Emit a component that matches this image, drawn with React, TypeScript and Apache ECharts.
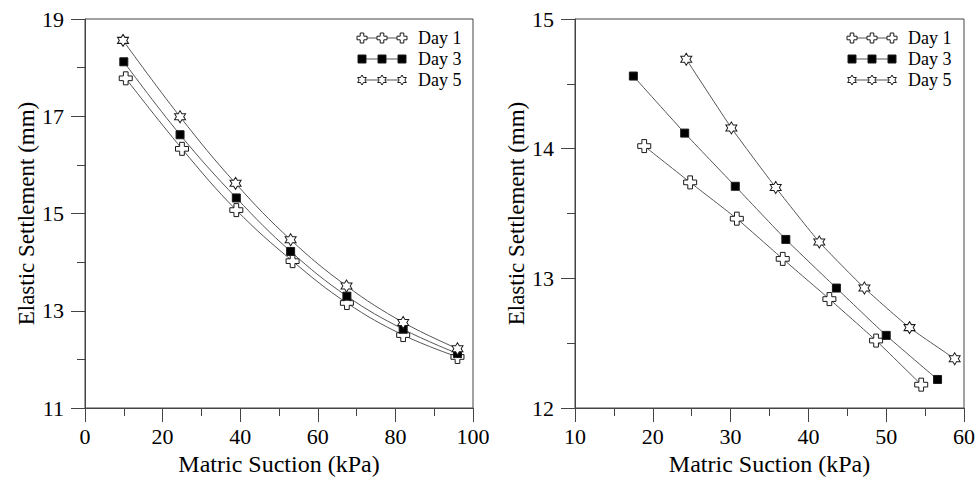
import React, { useEffect, useRef } from "react";
import * as echarts from "echarts";

// Left panel: matric suction (kPa) and elastic settlement (mm)
const leftSuctionDay1 = [10.5, 25, 39, 53.5, 67.5, 82, 96];
const leftSettleDay1 = [17.78, 16.33, 15.07, 14.02, 13.16, 12.5, 12.05];
const leftSuctionDay3 = [10, 24.5, 39, 53, 67.5, 82, 96];
const leftSettleDay3 = [18.12, 16.62, 15.32, 14.22, 13.3, 12.62, 12.12];
const leftSuctionDay5 = [9.8, 24.5, 38.8, 53, 67.4, 82, 96];
const leftSettleDay5 = [18.56, 16.99, 15.62, 14.46, 13.51, 12.76, 12.22];

// Right panel
const rightSuctionDay1 = [18.9, 24.8, 30.8, 36.7, 42.7, 48.7, 54.5];
const rightSettleDay1 = [14.02, 13.74, 13.46, 13.15, 12.84, 12.52, 12.18];
const rightSuctionDay3 = [17.5, 24.1, 30.6, 37.1, 43.6, 50.0, 56.6];
const rightSettleDay3 = [14.56, 14.12, 13.71, 13.3, 12.925, 12.56, 12.22];
const rightSuctionDay5 = [24.3, 30.1, 35.8, 41.4, 47.2, 53.0, 58.8];
const rightSettleDay5 = [14.69, 14.16, 13.7, 13.28, 12.925, 12.62, 12.38];

const seriesNames = ["Day 1", "Day 3", "Day 5"];

const FONT = "Liberation Serif";
const LINE = "#555";
const EDGE = "#1a1a1a";

const CROSS_D =
  "M3.2,0 L6.8,0 L6.8,3.2 L10,3.2 L10,6.8 L6.8,6.8 L6.8,10 L3.2,10 L3.2,6.8 L0,6.8 L0,3.2 L3.2,3.2 Z";
const STAR_D =
  "M5,0 L6.44,2.5 L9.33,2.5 L7.89,5 L9.33,7.5 L6.44,7.5 L5,10 L3.56,7.5 L0.67,7.5 L2.11,5 L0.67,2.5 L3.56,2.5 Z";

function pairs(xs: number[], ys: number[]) {
  return xs.map((x, i) => [x, ys[i]]);
}

const markerStyles = [
  { symbol: "path://" + CROSS_D, symbolSize: [13, 13], fill: "#fff" },
  { symbol: "rect", symbolSize: [8, 8], fill: "#000" },
  { symbol: "path://" + STAR_D, symbolSize: [11, 12], fill: "#fff" },
];

function makeSeries(
  name: string,
  idx: number,
  data: number[][],
  axisIndex: number,
  smooth: number | boolean
) {
  const m = markerStyles[idx];
  return {
    name,
    type: "line",
    xAxisIndex: axisIndex,
    yAxisIndex: axisIndex,
    data,
    smooth,
    symbol: m.symbol,
    symbolSize: m.symbolSize,
    showAllSymbol: true,
    lineStyle: { color: LINE, width: 1 },
    itemStyle: { color: m.fill, borderColor: EDGE, borderWidth: 1, opacity: 1 },
    emphasis: { disabled: true },
    z: 3 + idx,
  };
}

function xAxisCfg(gridIndex: number, min: number, max: number, interval: number) {
  return {
    type: "value",
    gridIndex,
    min,
    max,
    interval,
    name: "Matric Suction (kPa)",
    nameLocation: "middle",
    nameGap: 28,
    nameTextStyle: { fontFamily: FONT, fontSize: 24, color: "#000" },
    axisLine: { show: true, onZero: false, lineStyle: { color: "#444", width: 1 } },
    axisTick: { show: true, inside: false, length: 14, lineStyle: { color: "#444" } },
    minorTick: { show: true, splitNumber: 2, length: 8, lineStyle: { color: "#444" } },
    splitLine: { show: false },
    axisLabel: { fontFamily: FONT, fontSize: 22, color: "#000", margin: 17 },
  };
}

function yAxisCfg(gridIndex: number, min: number, max: number, interval: number) {
  return {
    type: "value",
    gridIndex,
    min,
    max,
    interval,
    name: "Elastic Settlement (mm)",
    nameLocation: "middle",
    nameGap: 47,
    nameTextStyle: { fontFamily: FONT, fontSize: 23, color: "#000" },
    axisLine: { show: true, onZero: false, lineStyle: { color: "#444", width: 1 } },
    axisTick: { show: true, inside: false, length: 14, lineStyle: { color: "#444" } },
    minorTick: { show: true, splitNumber: 2, length: 8, lineStyle: { color: "#444" } },
    splitLine: { show: false },
    axisLabel: { fontFamily: FONT, fontSize: 22, color: "#000", margin: 21 },
  };
}

// Legend block: a short line with three markers, then the label
function legendBlock(x0: number, y0: number) {
  const children: any[] = [];
  const rowGap = 21;
  const step = 20;
  seriesNames.forEach((label, i) => {
    const cy = y0 + i * rowGap;
    children.push({
      type: "line",
      shape: { x1: x0, y1: cy, x2: x0 + 2 * step, y2: cy },
      style: { stroke: LINE, lineWidth: 1 },
      silent: true,
    });
    for (let k = 0; k < 3; k++) {
      const cx = x0 + k * step;
      if (i === 1) {
        children.push({
          type: "rect",
          shape: { x: cx - 4, y: cy - 4, width: 8, height: 8 },
          style: { fill: "#000", stroke: EDGE, lineWidth: 1 },
          silent: true,
        });
      } else {
        children.push({
          type: i === 0 ? "plusMark" : "starMark",
          x: cx - 5,
          y: cy - 5,
          style: { fill: "#fff", stroke: EDGE, lineWidth: 1 },
          silent: true,
        });
      }
    }
    children.push({
      type: "text",
      x: x0 + 2 * step + 16,
      y: cy,
      style: {
        text: label,
        fontFamily: FONT,
        fontSize: 18,
        fill: "#000",
        verticalAlign: "middle",
        align: "left",
      },
      silent: true,
    });
  });
  return { type: "group", children };
}

let registered = false;
function ensureShapes() {
  if (registered) return;
  echarts.graphic.registerShape("plusMark", echarts.graphic.extendPath(CROSS_D, {}));
  echarts.graphic.registerShape("starMark", echarts.graphic.extendPath(STAR_D, {}));
  registered = true;
}

export default function App() {
  const ref = useRef<HTMLDivElement>(null);

  useEffect(() => {
    if (!ref.current) return;
    ensureShapes();
    const chart = echarts.init(ref.current, undefined, { renderer: "svg" });

    const leftData = [
      pairs(leftSuctionDay1, leftSettleDay1),
      pairs(leftSuctionDay3, leftSettleDay3),
      pairs(leftSuctionDay5, leftSettleDay5),
    ];
    const rightData = [
      pairs(rightSuctionDay1, rightSettleDay1),
      pairs(rightSuctionDay3, rightSettleDay3),
      pairs(rightSuctionDay5, rightSettleDay5),
    ];

    const gridBase = {
      top: 19,
      height: 389,
      show: true,
      borderColor: "#444",
      borderWidth: 1,
      backgroundColor: "transparent",
      containLabel: false,
      outerBoundsMode: "none",
    };

    chart.setOption({
      animation: false,
      backgroundColor: "#fff",
      textStyle: { fontFamily: FONT },
      grid: [
        { ...gridBase, left: 85, width: 388 },
        { ...gridBase, left: 575, width: 389 },
      ],
      xAxis: [xAxisCfg(0, 0, 100, 20), xAxisCfg(1, 10, 60, 10)],
      yAxis: [yAxisCfg(0, 11, 19, 2), yAxisCfg(1, 12, 15, 1)],
      series: [
        ...leftData.map((d, i) => makeSeries(seriesNames[i], i, d, 0, 0.4)),
        ...rightData.map((d, i) => makeSeries(seriesNames[i], i, d, 1, 0.15)),
      ],
      graphic: [legendBlock(362, 38), legendBlock(852, 38)],
    });

    return () => chart.dispose();
  }, []);

  return (
    <div
      ref={ref}
      style={{ position: "fixed", left: 0, top: 0, width: 978, height: 477, background: "#fff" }}
    />
  );
}
